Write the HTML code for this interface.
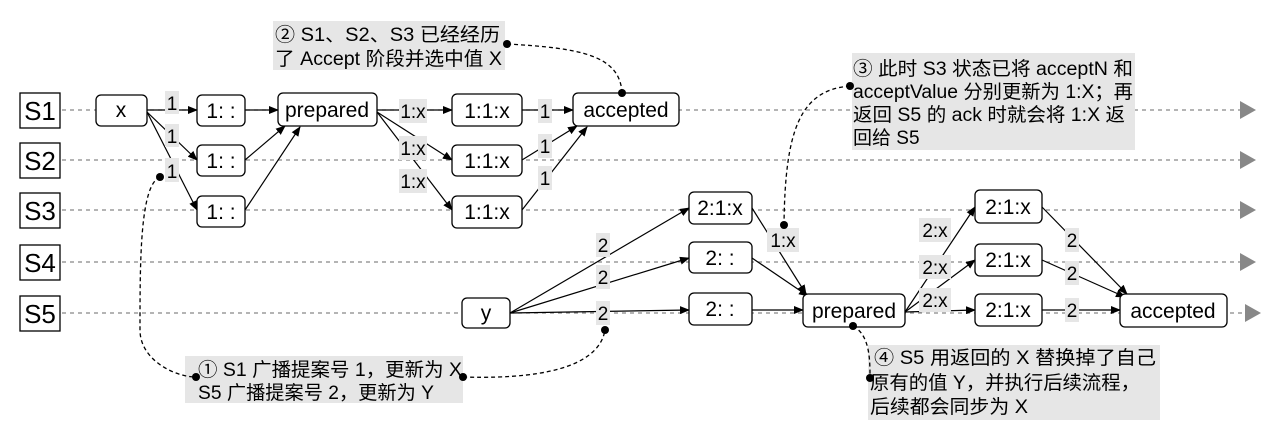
<!DOCTYPE html>
<html><head><meta charset="utf-8"><style>
html,body{margin:0;padding:0;background:#fff;}
svg text{font-family:"Liberation Sans","Noto Sans CJK SC",sans-serif;fill:#000;}
</style></head><body>
<svg width="1280" height="433" viewBox="0 0 1280 433" xmlns="http://www.w3.org/2000/svg">
<defs>
<marker id="a" markerWidth="10" markerHeight="8" refX="9" refY="4" orient="auto" markerUnits="userSpaceOnUse"><path d="M0,0 L10,4 L0,8 Z" fill="#000"/></marker>
</defs>
<g stroke="#888" stroke-width="1.2" stroke-dasharray="4,4">
<line x1="62" y1="110" x2="1240" y2="110"/>
<line x1="62" y1="160" x2="1240" y2="160"/>
<line x1="62" y1="210" x2="1240" y2="210"/>
<line x1="62" y1="262" x2="1240" y2="262"/>
<line x1="62" y1="313" x2="1245" y2="313"/>
</g>
<g fill="#888">
<path d="M1240,101 L1256,110 L1240,119Z"/>
<path d="M1240,151 L1256,160 L1240,169Z"/>
<path d="M1240,201 L1256,210 L1240,219Z"/>
<path d="M1240,253 L1256,262 L1240,271Z"/>
<path d="M1245,304 L1261,313 L1245,322Z"/>
</g>
<g fill="#fff" stroke="#000" stroke-width="1.3">
<rect x="20" y="93" width="40" height="35"/>
<rect x="20" y="143" width="40" height="35"/>
<rect x="20" y="193" width="40" height="35"/>
<rect x="20" y="245" width="40" height="35"/>
<rect x="20" y="296" width="40" height="35"/>
</g>
<g font-size="26" text-anchor="middle" textLength="36">
<text x="40" y="120">S1</text><text x="40" y="170">S2</text><text x="40" y="220">S3</text><text x="40" y="272">S4</text><text x="40" y="323">S5</text>
</g>
<g stroke="#000" stroke-width="1.2" fill="none" marker-end="url(#a)">
<line x1="147" y1="110" x2="197" y2="110"/>
<line x1="245" y1="110" x2="278" y2="110"/>
<line x1="377" y1="110" x2="452" y2="110"/>
<line x1="522" y1="110" x2="573" y2="110"/>
<line x1="147" y1="112" x2="197" y2="160"/>
<line x1="147" y1="112" x2="197" y2="210"/>
<line x1="245" y1="160" x2="285" y2="126"/>
<line x1="245" y1="210" x2="300" y2="127"/>
<line x1="377" y1="112" x2="452" y2="160"/>
<line x1="377" y1="112" x2="452" y2="210"/>
<line x1="522" y1="160" x2="577" y2="126"/>
<line x1="522" y1="210" x2="587" y2="127"/>
<line x1="510" y1="313" x2="689" y2="208"/>
<line x1="510" y1="313" x2="689" y2="258"/>
<line x1="510" y1="313" x2="689" y2="310"/>
<line x1="752" y1="208" x2="806" y2="294"/>
<line x1="752" y1="258" x2="808" y2="296"/>
<line x1="752" y1="310" x2="803" y2="310"/>
<line x1="905" y1="312" x2="975" y2="207"/>
<line x1="905" y1="312" x2="975" y2="260"/>
<line x1="905" y1="312" x2="975" y2="310"/>
<line x1="1042" y1="207" x2="1127" y2="294"/>
<line x1="1042" y1="260" x2="1125" y2="297"/>
<line x1="1042" y1="310" x2="1120" y2="310"/>
</g>
<g font-size="19" text-anchor="middle">
<g fill="#e6e6e6">
<rect x="165" y="91" width="14" height="23"/><rect x="165" y="124" width="14" height="23"/><rect x="165" y="158" width="14" height="24"/>
<rect x="399" y="99" width="28" height="24"/><rect x="399" y="136" width="28" height="24"/><rect x="399" y="169" width="28" height="24"/>
<rect x="538" y="99" width="14" height="24"/><rect x="538" y="134" width="14" height="24"/><rect x="538" y="166" width="14" height="24"/>
<rect x="596" y="233" width="14" height="24"/><rect x="596" y="265" width="14" height="24"/><rect x="596" y="301" width="14" height="24"/>
<rect x="767" y="228" width="32" height="24"/>
<rect x="919" y="218" width="32" height="24"/><rect x="919" y="255" width="32" height="24"/><rect x="919" y="288" width="32" height="24"/>
<rect x="1065" y="228" width="14" height="24"/><rect x="1065" y="261" width="14" height="24"/><rect x="1065" y="298" width="14" height="24"/>
</g>
<text x="172" y="110">1</text><text x="172" y="143">1</text><text x="172" y="178">1</text>
<text x="413" y="118">1:x</text><text x="413" y="155">1:x</text><text x="413" y="188">1:x</text>
<text x="545" y="118">1</text><text x="545" y="153">1</text><text x="545" y="185">1</text>
<text x="603" y="252">2</text><text x="603" y="284">2</text><text x="603" y="320">2</text>
<text x="783" y="247">1:x</text>
<text x="935" y="237">2:x</text><text x="935" y="274">2:x</text><text x="935" y="307">2:x</text>
<text x="1072" y="247">2</text><text x="1072" y="280">2</text><text x="1072" y="317">2</text>
</g>
<g fill="#fff" stroke="#000" stroke-width="1.3">
<rect x="96" y="95" width="51" height="31" rx="5"/>
<rect x="197" y="95" width="48" height="31" rx="5"/>
<rect x="197" y="145" width="48" height="31" rx="5"/>
<rect x="197" y="196" width="48" height="31" rx="5"/>
<rect x="278" y="93" width="99" height="33" rx="5"/>
<rect x="452" y="94" width="70" height="32" rx="5"/>
<rect x="452" y="145" width="70" height="31" rx="5"/>
<rect x="452" y="196" width="70" height="32" rx="5"/>
<rect x="573" y="93" width="106" height="33" rx="5"/>
<rect x="462" y="298" width="48" height="30" rx="5"/>
<rect x="689" y="192" width="63" height="32" rx="5"/>
<rect x="689" y="242" width="63" height="31" rx="5"/>
<rect x="689" y="293" width="63" height="32" rx="5"/>
<rect x="803" y="294" width="102" height="33" rx="5"/>
<rect x="975" y="190" width="67" height="33" rx="5"/>
<rect x="975" y="244" width="67" height="32" rx="5"/>
<rect x="975" y="294" width="67" height="32" rx="5"/>
<rect x="1120" y="294" width="107" height="33" rx="5"/>
</g>
<g font-size="21" text-anchor="middle">
<text x="121" y="117">x</text>
<text x="221" y="118">1: :</text><text x="221" y="168">1: :</text><text x="221" y="219">1: :</text>
<text x="327" y="117">prepared</text>
<text x="487" y="118">1:1:x</text><text x="487" y="168">1:1:x</text><text x="487" y="219">1:1:x</text>
<text x="626" y="117">accepted</text>
<text x="486" y="320">y</text>
<text x="720" y="215">2:1:x</text><text x="720" y="265">2: :</text><text x="720" y="316">2: :</text>
<text x="854" y="318">prepared</text>
<text x="1008" y="214">2:1:x</text><text x="1008" y="267">2:1:x</text><text x="1008" y="317">2:1:x</text>
<text x="1173" y="318">accepted</text>
</g>
<g fill="#e6e6e6">
<rect x="273" y="21" width="232" height="49"/>
<rect x="852" y="53" width="283" height="97"/>
<rect x="185" y="356" width="278" height="47"/>
<rect x="868" y="345" width="292" height="75"/>
</g>
<g font-size="19">
<text x="275" y="41" textLength="225" lengthAdjust="spacingAndGlyphs">② S1、S2、S3 已经经历</text>
<text x="275" y="65" textLength="227" lengthAdjust="spacingAndGlyphs">了 Accept 阶段并选中值 X</text>
<text x="853" y="75" textLength="280" lengthAdjust="spacingAndGlyphs">③  此时 S3 状态已将 acceptN 和</text>
<text x="853" y="98" textLength="280" lengthAdjust="spacingAndGlyphs">acceptValue 分别更新为 1:X；再</text>
<text x="853" y="121" textLength="272" lengthAdjust="spacingAndGlyphs">返回 S5 的 ack 时就会将 1:X 返</text>
<text x="853" y="144">回给 S5</text>
<text x="198" y="376" textLength="264" lengthAdjust="spacingAndGlyphs">① S1 广播提案号 1，更新为 X</text>
<text x="198" y="399" textLength="236" lengthAdjust="spacingAndGlyphs">S5 广播提案号 2，更新为 Y</text>
<text x="874" y="364" textLength="282" lengthAdjust="spacingAndGlyphs">④  S5 用返回的 X 替换掉了自己</text>
<text x="870" y="389" textLength="270" lengthAdjust="spacingAndGlyphs">原有的值 Y，并执行后续流程，</text>
<text x="870" y="413" textLength="158" lengthAdjust="spacingAndGlyphs">后续都会同步为 X</text>
</g>
<g stroke="#000" stroke-width="1.3" fill="none" stroke-dasharray="4,3">
<path d="M507,44 C580,48 620,55 622,93"/>
<path d="M850,86 C800,90 785,130 784,225"/>
<path d="M160,177 C140,185 140,260 140,330 C140,360 175,377 196,377"/>
<path d="M463,377 C560,380 600,360 605,330"/>
<path d="M853,326 C870,335 870,360 870,378"/>
</g>
<g fill="#000">
<circle cx="507" cy="44" r="4"/><circle cx="622" cy="93" r="4"/>
<circle cx="850" cy="86" r="4"/><circle cx="784" cy="225" r="4"/>
<circle cx="160" cy="177" r="4"/><circle cx="196" cy="377" r="4"/>
<circle cx="463" cy="377" r="4"/><circle cx="605" cy="330" r="4"/>
<circle cx="853" cy="326" r="4"/><circle cx="870" cy="378" r="4"/>
</g>
</svg>
</body></html>
